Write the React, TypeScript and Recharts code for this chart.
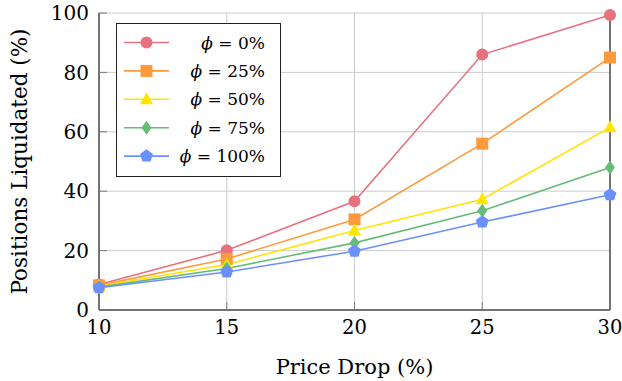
import React from 'react';
import { LineChart, Line, XAxis, YAxis, CartesianGrid, Legend } from 'recharts';

// Liquidation share per price drop, one series per phi level
const priceDrops = [10, 15, 20, 25, 30];
const phi0 = [8.6, 20.1, 36.6, 86.0, 99.3];
const phi25 = [8.3, 17.2, 30.5, 56.0, 85.0];
const phi50 = [8.0, 15.3, 26.8, 37.3, 61.5];
const phi75 = [7.7, 14.0, 22.6, 33.4, 48.0];
const phi100 = [7.5, 12.8, 19.8, 29.6, 38.8];

const xTicks = [10, 15, 20, 25, 30];
const yTicks = [0, 20, 40, 60, 80, 100];

const seriesLabels = ['0%', '25%', '50%', '75%', '100%'];
const seriesKeys = ['p0', 'p25', 'p50', 'p75', 'p100'];
const seriesValues = [phi0, phi25, phi50, phi75, phi100];
const seriesColors = ['#E8717F', '#FF9A3C', '#FFE400', '#66BB77', '#6A90FF'];
const seriesShapes = ['circle', 'square', 'triangle', 'diamond', 'pentagon'];

const data = priceDrops.map((drop, i) => {
  const row: Record<string, number> = { drop };
  seriesKeys.forEach((k, s) => {
    row[k] = seriesValues[s][i];
  });
  return row;
});

const FONT = "'DejaVu Serif', serif";
const GRID = '#cccccc';
const TICK = '#7a7a7a';
const TICK_LEN = 8;

const textStyle = (size: number): React.CSSProperties => ({ fontFamily: FONT, fontSize: size, fill: '#000' });

function Marker({ shape, cx, cy, color }: { shape: string; cx: number; cy: number; color: string }) {
  if (cx == null || cy == null) return null;
  switch (shape) {
    case 'circle':
      return <circle cx={cx} cy={cy} r={6} fill={color} />;
    case 'square':
      return <rect x={cx - 6} y={cy - 6} width={12} height={12} fill={color} />;
    case 'triangle': {
      const pts = [[cx, cy - 7], [cx + 6.5, cy + 5], [cx - 6.5, cy + 5]];
      return <polygon points={pts.map((p) => p.join(',')).join(' ')} fill={color} />;
    }
    case 'diamond': {
      const pts = [[cx, cy - 7], [cx + 5, cy], [cx, cy + 7], [cx - 5, cy]];
      return <polygon points={pts.map((p) => p.join(',')).join(' ')} fill={color} />;
    }
    default: {
      const pts = [0, 1, 2, 3, 4].map((k) => {
        const a = ((-90 + k * 72) * Math.PI) / 180;
        return [cx + 6.8 * Math.cos(a), cy + 6.8 * Math.sin(a)];
      });
      return <polygon points={pts.map((p) => p.join(',')).join(' ')} fill={color} />;
    }
  }
}

const BottomTick = (props: any) => {
  const { x, y, payload } = props;
  return (
    <g>
      <line x1={x} x2={x} y1={y} y2={y - TICK_LEN} stroke={TICK} />
      <text x={x} y={y + 10} dy="0.71em" textAnchor="middle" style={textStyle(19.5)}>
        {payload.value}
      </text>
    </g>
  );
};

const TopTick = (props: any) => {
  const { x, y } = props;
  return <line x1={x} x2={x} y1={y} y2={y + TICK_LEN} stroke={TICK} />;
};

const LeftTick = (props: any) => {
  const { x, y, payload } = props;
  return (
    <g>
      <line x1={x} x2={x + TICK_LEN} y1={y} y2={y} stroke={TICK} />
      <text x={x - 10} y={y} dy="0.36em" textAnchor="end" style={textStyle(20)}>
        {payload.value}
      </text>
    </g>
  );
};

const RightTick = (props: any) => {
  const { x, y } = props;
  return <line x1={x} x2={x - TICK_LEN} y1={y} y2={y} stroke={TICK} />;
};

const LegendBox = () => (
  <svg width={165} height={154} style={{ display: 'block' }}>
    <rect x={0.5} y={0.5} width={164} height={153} fill="#fff" stroke="#222" strokeWidth={1} />
    {seriesLabels.map((label, i) => {
      const cy = 19.5 + i * 28.4;
      return (
        <g key={label}>
          <line x1={8} x2={53} y1={cy} y2={cy} stroke={seriesColors[i]} strokeWidth={1.6} />
          <Marker shape={seriesShapes[i]} cx={30.5} cy={cy} color={seriesColors[i]} />
          <text x={149} y={cy} dy="0.36em" textAnchor="end" style={textStyle(17)}>
            <tspan style={{ fontStyle: 'italic' }}>ϕ</tspan>
            <tspan> = {label}</tspan>
          </text>
        </g>
      );
    })}
  </svg>
);

const YLabel = (props: any) => {
  const vb = props.viewBox || {};
  const cy = vb.y + vb.height / 2;
  const x = 26.5;
  return (
    <text x={x} y={cy} transform={`rotate(-90, ${x}, ${cy})`} textAnchor="middle" style={textStyle(21.5)}>
      Positions Liquidated (%)
    </text>
  );
};

const XLabel = (props: any) => {
  const vb = props.viewBox || {};
  const cx = vb.x + vb.width / 2;
  return (
    <text x={cx} y={374} textAnchor="middle" style={textStyle(21)}>
      Price Drop (%)
    </text>
  );
};

export default function App() {
  return (
    <div style={{ position: 'absolute', left: 0, top: 0, background: '#fff', fontFamily: FONT }}>
      <LineChart width={622} height={381} data={data} margin={{ top: 13, right: 0, bottom: 0, left: 0 }} style={{ fontFamily: FONT }}>
        <CartesianGrid stroke={GRID} strokeWidth={1} />
        <XAxis
          dataKey="drop"
          type="number"
          domain={[10, 30]}
          ticks={xTicks}
          height={71}
          tickSize={0}
          tickMargin={0}
          tickLine={false}
          axisLine={{ stroke: '#000', strokeWidth: 1 }}
          tick={<BottomTick />}
          interval={0}
          label={<XLabel />}
        />
        <XAxis
          xAxisId="top"
          orientation="top"
          type="number"
          domain={[10, 30]}
          ticks={xTicks}
          height={0}
          tickSize={0}
          tickMargin={0}
          tickLine={false}
          axisLine={{ stroke: '#000', strokeWidth: 1 }}
          tick={<TopTick />}
          interval={0}
        />
        <YAxis
          type="number"
          domain={[0, 100]}
          ticks={yTicks}
          width={99}
          tickSize={0}
          tickMargin={0}
          tickLine={false}
          axisLine={{ stroke: '#000', strokeWidth: 1 }}
          tick={<LeftTick />}
          interval={0}
          label={<YLabel />}
        />
        <YAxis
          yAxisId="right"
          orientation="right"
          type="number"
          domain={[0, 100]}
          ticks={yTicks}
          width={12}
          tickSize={0}
          tickMargin={0}
          tickLine={false}
          axisLine={{ stroke: '#000', strokeWidth: 1 }}
          tick={<RightTick />}
          interval={0}
        />
        {seriesKeys.map((key, s) => (
          <Line
            key={key}
            dataKey={key}
            type="linear"
            stroke={seriesColors[s]}
            strokeWidth={1.6}
            isAnimationActive={false}
            dot={(p: any) => (
              <Marker key={`${key}-${p.index}`} shape={seriesShapes[s]} cx={p.cx} cy={p.cy} color={seriesColors[s]} />
            )}
            activeDot={false}
          />
        ))}
        <Legend
          layout="vertical"
          align="center"
          verticalAlign="middle"
          wrapperStyle={{ position: 'absolute', left: 116, top: 23, width: 165, height: 154 }}
          content={() => <LegendBox />}
        />
      </LineChart>
    </div>
  );
}
